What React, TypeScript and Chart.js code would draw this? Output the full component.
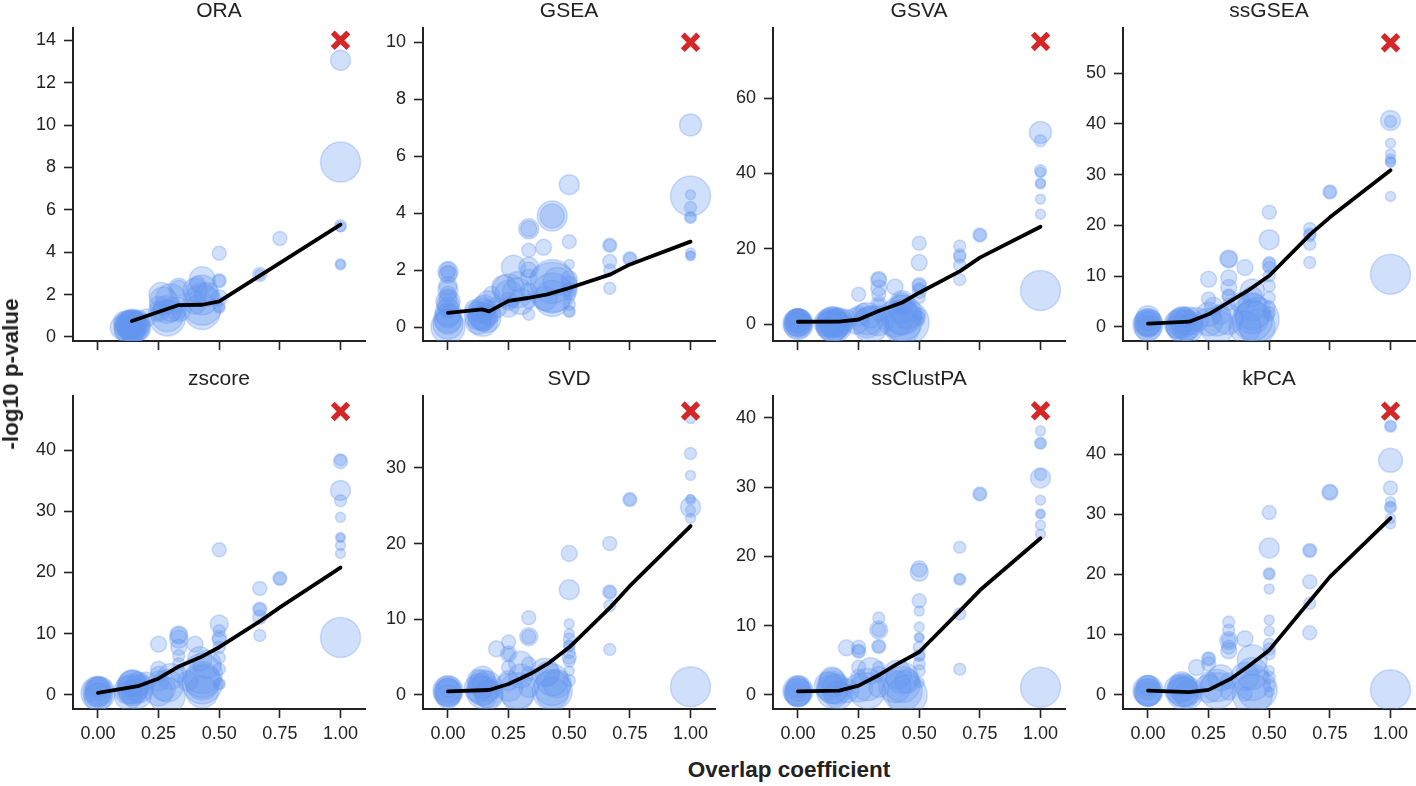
import React, { useEffect, useRef } from 'react';
import { Chart, registerables } from 'chart.js';

Chart.register(...registerables);

type Triple = [number, number, number];
type Pair = [number, number];

const PANEL_TITLES = ['ORA', 'GSEA', 'GSVA', 'ssGSEA', 'zscore', 'SVD', 'ssClustPA', 'kPCA'];
const X_TICKS = [0, 0.25, 0.5, 0.75, 1];
const X_LABEL = 'Overlap coefficient';
const Y_LABEL = '-log10 p-value';

// y tick values per panel
const ORA_Y_TICKS = [0, 2, 4, 6, 8, 10, 12, 14];
const GSEA_Y_TICKS = [0, 2, 4, 6, 8, 10];
const GSVA_Y_TICKS = [0, 20, 40, 60];
const SSGSEA_Y_TICKS = [0, 10, 20, 30, 40, 50];
const ZSCORE_Y_TICKS = [0, 10, 20, 30, 40];
const SVD_Y_TICKS = [0, 10, 20, 30];
const SSCLUSTPA_Y_TICKS = [0, 10, 20, 30, 40];
const KPCA_Y_TICKS = [0, 10, 20, 30, 40];

// y ranges per panel
const ORA_Y_RANGE: Pair = [-0.19, 14.6];
const GSEA_Y_RANGE: Pair = [-0.49, 10.52];
const GSVA_Y_RANGE: Pair = [-4.4, 78.7];
const SSGSEA_Y_RANGE: Pair = [-2.76, 59.0];
const ZSCORE_Y_RANGE: Pair = [-2.29, 48.9];
const SVD_Y_RANGE: Pair = [-1.85, 39.55];
const SSCLUSTPA_Y_RANGE: Pair = [-2.02, 43.2];
const KPCA_Y_RANGE: Pair = [-2.4, 49.8];

// red "x" marker per panel
const ORA_MARKER: Pair = [1, 14];
const GSEA_MARKER: Pair = [1, 10];
const GSVA_MARKER: Pair = [1, 75];
const SSGSEA_MARKER: Pair = [1, 56];
const ZSCORE_MARKER: Pair = [1, 46.3];
const SVD_MARKER: Pair = [1, 37.5];
const SSCLUSTPA_MARKER: Pair = [1, 41];
const KPCA_MARKER: Pair = [1, 47.2];

// bubbles: [overlap, -log10 p, size]
const ORA_BUBBLES: Triple[] = [
  [0.14, 0.5, 15], [0.14, 0.7, 13], [0.125, 0.55, 14], [0.143, 0.4, 13], [0.167, 0.8, 10], [0.2, 0.9, 9],
  [0.1, 0.45, 12], [0.143, 0.3, 12], [0.13, 0.6, 14], [0.15, 0.45, 15], [0.14, 0.55, 12], [0.12, 0.35, 13],
  [0.16, 0.6, 13], [0.143, 0.5, 16], [0.11, 0.7, 11], [0.167, 0.4, 12], [0.143, 0.6, 14], [0.13, 0.4, 15],
  [0.286, 0.9, 18], [0.333, 2.3, 10], [0.333, 2.3, 8], [0.333, 1.15, 7], [0.25, 1.07, 6], [0.26, 2.0, 12], [0.27, 1.7, 14],
  [0.3, 1.3, 12], [0.25, 1.5, 9], [0.286, 1.0, 16], [0.286, 1.3, 14], [0.3, 1.8, 15], [0.25, 1.2, 10], [0.333, 1.3, 12],
  [0.43, 1.2, 18], [0.43, 2.7, 13], [0.41, 2.5, 8], [0.43, 2.2, 15], [0.4, 1.6, 11], [0.43, 1.5, 20], [0.43, 1.8, 16],
  [0.45, 2.0, 12], [0.4, 2.2, 12],
  [0.5, 3.95, 7], [0.5, 2.65, 7], [0.5, 2.65, 6], [0.5, 1.4, 5], [0.5, 1.4, 6], [0.5, 1.85, 8],
  [0.667, 2.95, 7], [0.667, 2.95, 5],
  [0.75, 4.65, 7],
  [1, 13.05, 10], [1, 8.25, 20], [1, 5.25, 6], [1, 5.2, 5], [1, 3.4, 5], [1, 3.45, 5],
];
const GSEA_BUBBLES: Triple[] = [
  [0, 0, 17], [0, 0.2, 13], [0, 1.95, 10], [0, 1.85, 9], [0, 1.45, 9], [0, 0.9, 12], [0, 0.7, 10], [0, 1.15, 8],
  [0, 0.4, 12], [0, 2.0, 8], [0, 1.0, 9], [0, 0.6, 8], [0, 1.9, 7], [0, 0.1, 15], [0, 0.3, 14], [0, 0.8, 11],
  [0, 1.3, 10], [0, 0.5, 13],
  [0.143, 0.45, 15], [0.167, 0.85, 12], [0.125, 0.2, 13], [0.11, 0.6, 10], [0.2, 0.68, 10], [0.18, 1.15, 8],
  [0.143, 0.3, 12], [0.167, 0.5, 12], [0.143, 0.35, 14], [0.14, 0.6, 13], [0.125, 0.4, 14], [0.16, 0.3, 14],
  [0.15, 0.7, 12], [0.143, 0.2, 15],
  [0.25, 1.15, 14], [0.25, 0.7, 10], [0.23, 1.4, 12], [0.27, 2.1, 12], [0.286, 1.6, 10], [0.25, 0.9, 9],
  [0.25, 1.3, 16], [0.286, 1.2, 15], [0.3, 0.9, 13],
  [0.333, 3.45, 10], [0.333, 3.45, 8], [0.333, 2.7, 7], [0.333, 2.1, 10], [0.333, 2.0, 8], [0.333, 1.75, 8],
  [0.333, 1.27, 8], [0.333, 0.45, 6], [0.333, 0.9, 7],
  [0.394, 2.8, 8], [0.43, 3.9, 15], [0.43, 3.9, 12], [0.43, 1.4, 25], [0.43, 1.2, 20], [0.4, 1.0, 12], [0.45, 1.6, 14],
  [0.43, 1.6, 22], [0.43, 1.0, 18],
  [0.5, 5.0, 10], [0.5, 3.0, 7], [0.5, 2.2, 5], [0.5, 1.7, 8], [0.5, 1.5, 8], [0.5, 1.15, 6], [0.5, 0.8, 6],
  [0.5, 0.55, 6], [0.5, 0.55, 5], [0.5, 1.3, 7],
  [0.667, 2.87, 7], [0.667, 2.87, 6], [0.667, 2.3, 7], [0.667, 2.0, 6], [0.667, 1.36, 6],
  [0.75, 2.4, 7], [0.75, 2.4, 6],
  [1, 7.1, 11], [1, 4.6, 20], [1, 4.65, 5], [1, 4.2, 6], [1, 3.85, 6], [1, 3.85, 5], [1, 2.6, 5], [1, 2.5, 5], [1, 2.5, 4],
];
const GSVA_BUBBLES: Triple[] = [
  [0, 0.4, 14], [0, 0.9, 12], [0, 0, 12], [0, 1.3, 10], [0, 0.6, 10], [0, 0.2, 15], [0, 0.7, 13], [0, -0.3, 14], [0, 1.6, 9],
  [0, 0.3, 13], [0, 1.0, 12],
  [0.143, -0.4, 16], [0.167, 0.4, 14], [0.125, 0, 12], [0.2, 1.3, 10], [0.143, 0.5, 13], [0.167, -0.2, 12],
  [0.143, 0, 17], [0.143, 0.8, 15], [0.125, 0.3, 14], [0.16, -0.5, 15], [0.143, -0.2, 16], [0.17, 0.9, 13],
  [0.143, 0.5, 15], [0.15, 0.2, 14],
  [0.25, 8.0, 7], [0.25, 2.2, 10], [0.24, 0.9, 13], [0.286, 0.4, 15], [0.27, 3.5, 8], [0.3, 2, 11],
  [0.286, 1.5, 16], [0.3, 0, 18], [0.33, 1, 15],
  [0.333, 11.9, 8], [0.333, 11.9, 7], [0.333, 9.7, 8], [0.333, 8.0, 7], [0.333, 5.3, 8], [0.333, 5.3, 6], [0.333, 2.6, 7],
  [0.4, 9.9, 8], [0.43, 5.75, 12], [0.43, 5.75, 10], [0.43, 0.9, 20], [0.43, -0.5, 18], [0.45, 2.5, 14],
  [0.4, 1.5, 18], [0.43, 2.5, 20], [0.45, 0.5, 22], [0.43, 2, 17], [0.43, 4, 14],
  [0.5, 21.5, 7], [0.5, 16.4, 8], [0.5, 10.6, 7], [0.5, 9.5, 6], [0.5, 8.8, 7], [0.5, 7.1, 6], [0.5, 2.7, 6],
  [0.5, 0.9, 5], [0.5, 1.8, 6], [0.5, 10.2, 7],
  [0.667, 20.8, 6], [0.667, 17.9, 6], [0.667, 18.4, 6], [0.667, 15.7, 6], [0.667, 11.9, 6],
  [0.75, 23.7, 7], [0.75, 23.7, 6],
  [1, 50.9, 11], [1, 48.7, 6], [1, 40.7, 6], [1, 40.3, 5], [1, 37.2, 5], [1, 37.5, 5], [1, 33.2, 5], [1, 29.2, 5], [1, 9.0, 20],
];
const SSGSEA_BUBBLES: Triple[] = [
  [0, 0.85, 14], [0, 1.8, 12], [0, 0.5, 13], [0, 0.2, 10], [0, 1.2, 10], [0, 0.4, 15], [0, 1.0, 13], [0, -0.3, 13],
  [0, 0.6, 12],
  [0.143, 0.5, 17], [0.167, 1.2, 14], [0.2, 1.5, 12], [0.125, 0, 12], [0.143, 1.0, 13], [0.143, 0, 16],
  [0.125, 0.6, 14], [0.16, 0.3, 15], [0.17, -0.2, 14], [0.143, 1.5, 13], [0.143, 0.8, 15],
  [0.25, 9.4, 8], [0.25, 5.5, 7], [0.25, 2.5, 12], [0.286, 1.2, 15], [0.27, 4.1, 9], [0.3, 2.5, 10],
  [0.286, 0, 17], [0.25, 1.0, 14], [0.33, 1.5, 15],
  [0.333, 13.4, 9], [0.333, 13.4, 8], [0.333, 9.7, 8], [0.333, 7.8, 8], [0.333, 6.1, 7], [0.333, 6.1, 6], [0.333, 4.5, 6],
  [0.4, 11.7, 8], [0.43, 7.1, 12], [0.43, 6, 10], [0.43, 1.2, 20], [0.38, 4.8, 10], [0.45, 0, 18],
  [0.43, 3, 18], [0.45, 1.5, 22], [0.4, 0, 16], [0.43, 2, 17], [0.43, 4, 14],
  [0.5, 22.6, 7], [0.5, 17.2, 10], [0.5, 12.7, 6], [0.5, 11.7, 6], [0.5, 10.1, 6], [0.5, 8.1, 6], [0.5, 5.8, 6],
  [0.5, 4, 6], [0.5, 2.8, 6], [0.5, 2.2, 5], [0.5, 12.2, 7],
  [0.667, 19.4, 6], [0.667, 18.3, 6], [0.667, 18.0, 6], [0.667, 16.3, 6], [0.667, 12.7, 6],
  [0.75, 26.6, 7], [0.75, 26.6, 6],
  [1, 40.7, 10], [1, 40.5, 6], [1, 36.2, 5], [1, 34.1, 5], [1, 33.1, 5], [1, 32.6, 5], [1, 32.4, 5], [1, 25.7, 5], [1, 10.4, 20],
];
const ZSCORE_BUBBLES: Triple[] = [
  [0, 0.3, 17], [0, 0.7, 13], [0, 0, 12], [0, 1.25, 10], [0, 0.5, 15], [0, -0.3, 14], [0, 1.0, 12], [0, 0.4, 13],
  [0.143, 1.25, 16], [0.143, 0.7, 15], [0.167, 1.8, 12], [0.125, -0.1, 14], [0.2, 2.3, 9],
  [0.143, 1.6, 15], [0.125, 0.8, 14], [0.16, 0.2, 15], [0.14, 2.0, 13], [0.17, 1.0, 14], [0.143, 1.0, 15],
  [0.25, 8.3, 8], [0.25, 4.2, 8], [0.25, 3.4, 8], [0.25, 2.3, 10], [0.286, -0.1, 18], [0.27, 1, 12],
  [0.286, 1.5, 16], [0.3, 3, 13], [0.25, 0.5, 14],
  [0.333, 9.8, 9], [0.333, 9.8, 8], [0.333, 9.1, 9], [0.333, 7.8, 8], [0.333, 6.4, 6], [0.333, 5.1, 6], [0.333, 3.4, 8],
  [0.4, 8.3, 8], [0.42, 5.9, 12], [0.43, 1.8, 20], [0.43, 0.5, 16], [0.37, 2.3, 10],
  [0.43, 3.5, 20], [0.43, 2.5, 18], [0.45, 5, 14], [0.43, 2, 17],
  [0.5, 23.7, 7], [0.5, 11.6, 9], [0.5, 10.5, 6], [0.5, 9.4, 7], [0.5, 7.8, 6], [0.5, 6.1, 6], [0.5, 4.2, 6],
  [0.5, 1.8, 6], [0.5, 1.8, 5], [0.5, 9.0, 7],
  [0.667, 17.4, 7], [0.667, 14.0, 7], [0.667, 14.0, 6], [0.667, 12.7, 7], [0.667, 9.7, 6],
  [0.75, 19.0, 7], [0.75, 19.0, 6],
  [1, 38.4, 6], [1, 38.1, 7], [1, 33.4, 10], [1, 31.7, 6], [1, 29, 5], [1, 25.7, 5], [1, 25.7, 4], [1, 24.4, 5],
  [1, 23.1, 5], [1, 9.4, 20],
];
const SVD_BUBBLES: Triple[] = [
  [0, 0.57, 15], [0, 0.2, 13], [0, 1.0, 10], [0, 0.3, 14], [0, 0.8, 13], [0, -0.2, 12], [0, 0.5, 13],
  [0.143, 0.8, 16], [0.143, 1.45, 14], [0.167, 0.2, 14], [0.125, 1.9, 11], [0.2, 6.1, 8],
  [0.143, 0.3, 16], [0.125, 0.9, 14], [0.16, 1.2, 15], [0.17, 0, 14], [0.143, 2.2, 12], [0.143, 0.6, 15],
  [0.25, 7.0, 7], [0.25, 5.4, 8], [0.25, 5.4, 6], [0.25, 3.65, 7], [0.25, 1.9, 10], [0.286, 0.57, 18], [0.3, 2.5, 12],
  [0.286, 0, 16], [0.25, 1.0, 14], [0.3, 4.2, 12],
  [0.333, 10.2, 7], [0.333, 7.7, 9], [0.333, 7.7, 7], [0.333, 4.1, 7], [0.333, 2.8, 7], [0.333, 1.0, 10],
  [0.41, 2.8, 12], [0.43, 0.57, 20], [0.43, 0.2, 16], [0.45, 1.5, 14], [0.43, 1.0, 18], [0.4, 3, 14], [0.43, 2, 16],
  [0.5, 18.7, 8], [0.5, 13.9, 10], [0.5, 9.4, 5], [0.5, 8.1, 5], [0.5, 7.4, 6], [0.5, 6.5, 6], [0.5, 6.5, 5],
  [0.5, 5.6, 6], [0.5, 4.5, 6], [0.5, 3.2, 5], [0.5, 1.9, 6], [0.5, 5, 7],
  [0.667, 20.0, 7], [0.667, 13.6, 7], [0.667, 13.6, 6], [0.667, 11.8, 6], [0.667, 6.0, 6],
  [0.75, 25.8, 7], [0.75, 25.8, 6],
  [1, 36.5, 5], [1, 31.9, 6], [1, 29.0, 5], [1, 25.8, 5], [1, 25.9, 4], [1, 24.8, 10], [1, 24.4, 5], [1, 23.3, 5], [1, 1.1, 20],
];
const SSCLUSTPA_BUBBLES: Triple[] = [
  [0, 0.4, 14], [0, 0.87, 12], [0, 0, 12], [0, 0.6, 15], [0, 0.2, 13], [0, 1.2, 11], [0, 0.5, 13],
  [0.143, 1.1, 16], [0.143, 1.8, 14], [0.167, 0, 14], [0.2, 0.6, 12], [0.143, 0.4, 16], [0.125, 1.3, 14],
  [0.16, 0.8, 15], [0.14, 2.3, 12], [0.143, 0.9, 15],
  [0.2, 6.8, 8],
  [0.25, 6.3, 7], [0.25, 6.3, 6], [0.25, 6.9, 7], [0.25, 4.0, 7], [0.25, 2.55, 8], [0.286, 0.6, 18],
  [0.286, 1.5, 16], [0.25, 1.0, 14], [0.3, 3.5, 13],
  [0.333, 11.1, 6], [0.333, 9.4, 9], [0.333, 9.4, 7], [0.333, 7.0, 7], [0.333, 7.0, 6], [0.333, 4.0, 6],
  [0.333, 3.0, 8], [0.333, 1.1, 10],
  [0.43, 0.6, 20], [0.41, 3, 14], [0.45, 2, 12], [0.43, 1.5, 18], [0.45, 0, 20], [0.4, 1.2, 16], [0.43, 2.5, 16],
  [0.5, 18.2, 8], [0.5, 17.7, 9], [0.5, 13.6, 7], [0.5, 12.1, 5], [0.5, 9.8, 5], [0.5, 8.3, 5], [0.5, 8.3, 4],
  [0.5, 6.9, 6], [0.5, 5.7, 6], [0.5, 5.7, 5], [0.5, 3.5, 6], [0.5, 1.8, 5], [0.5, 4.5, 6],
  [0.667, 21.3, 6], [0.667, 16.7, 6], [0.667, 16.7, 5], [0.667, 11.7, 6], [0.667, 3.7, 6],
  [0.75, 29.0, 7], [0.75, 29.0, 6],
  [1, 38.1, 5], [1, 36.3, 6], [1, 36.3, 5], [1, 31.8, 6], [1, 31.3, 10], [1, 28.1, 5], [1, 26.1, 5], [1, 26.1, 4],
  [1, 24.5, 5], [1, 23.2, 5], [1, 1.1, 20],
];
const KPCA_BUBBLES: Triple[] = [
  [0, 0.4, 14], [0, 1.2, 12], [0, 0, 12], [0, 0.7, 15], [0, 0.2, 13], [0, 1.5, 10], [0, 0.5, 13],
  [0.143, 0.67, 16], [0.143, 1.2, 14], [0.167, 0, 14], [0.2, 4.5, 8], [0.143, 0.2, 16], [0.125, 0.9, 14],
  [0.16, 0.6, 15], [0.14, 1.8, 12], [0.143, 0.5, 15],
  [0.25, 5.95, 7], [0.25, 5.95, 6], [0.25, 5.1, 7], [0.25, 2.3, 9], [0.286, 0.67, 18],
  [0.286, 1.5, 16], [0.25, 1.0, 14], [0.3, 2.8, 13],
  [0.333, 12.1, 6], [0.333, 10.7, 6], [0.333, 9.0, 9], [0.333, 9.0, 7], [0.333, 7.9, 7], [0.333, 7.3, 8],
  [0.333, 2.3, 8], [0.333, 0.4, 8],
  [0.4, 9.3, 8], [0.43, 5.8, 15], [0.43, 0, 20], [0.4, 0.1, 7], [0.43, 2.0, 18], [0.45, 0.8, 20], [0.4, 3, 14],
  [0.43, 3.5, 16],
  [0.5, 30.3, 7], [0.5, 24.4, 10], [0.5, 20.1, 6], [0.5, 20.1, 5], [0.5, 17.6, 5], [0.5, 12.4, 5], [0.5, 10.6, 5],
  [0.5, 8.4, 6], [0.5, 7.6, 6], [0.5, 6.8, 6], [0.5, 4.0, 5], [0.5, 2.9, 6], [0.5, 0.4, 5], [0.5, 1.5, 6],
  [0.667, 24.0, 7], [0.667, 24.0, 6], [0.667, 18.8, 7], [0.667, 15.2, 6], [0.667, 10.3, 7],
  [0.75, 33.7, 8], [0.75, 33.7, 7],
  [1, 44.7, 6], [1, 44.7, 5], [1, 39.0, 12], [1, 34.4, 7], [1, 32.1, 5], [1, 31.2, 6], [1, 31.2, 5], [1, 29.3, 5],
  [1, 28.4, 5], [1, 0.8, 20],
];

// trend lines
const ORA_TREND: Pair[] = [[0.14, 0.75], [0.33, 1.5], [0.43, 1.52], [0.5, 1.68], [1, 5.3]];
const GSEA_TREND: Pair[] = [[0, 0.5], [0.14, 0.62], [0.17, 0.55], [0.25, 0.92], [0.33, 1.02], [0.41, 1.15], [0.5, 1.37], [0.67, 1.85], [0.75, 2.2], [1, 3.0]];
const GSVA_TREND: Pair[] = [[0, 0.7], [0.17, 0.75], [0.25, 1.3], [0.33, 3.5], [0.43, 5.8], [0.5, 8.4], [0.67, 14.2], [0.75, 17.7], [1, 25.9]];
const SSGSEA_TREND: Pair[] = [[0, 0.66], [0.17, 1.05], [0.25, 2.5], [0.33, 4.8], [0.41, 7.1], [0.5, 10.1], [0.67, 18.3], [0.75, 21.6], [1, 30.9]];
const ZSCORE_TREND: Pair[] = [[0, 0.33], [0.17, 1.5], [0.25, 2.7], [0.33, 4.6], [0.42, 6.1], [0.5, 7.8], [0.67, 12.1], [0.75, 14.3], [1, 20.8]];
const SVD_TREND: Pair[] = [[0, 0.48], [0.17, 0.66], [0.25, 1.45], [0.34, 2.8], [0.41, 4.1], [0.5, 6.3], [0.67, 11.6], [0.75, 14.4], [1, 22.3]];
const SSCLUSTPA_TREND: Pair[] = [[0, 0.53], [0.17, 0.63], [0.25, 1.35], [0.34, 3.0], [0.41, 4.5], [0.5, 6.2], [0.67, 12.2], [0.75, 15.1], [1, 22.6]];
const KPCA_TREND: Pair[] = [[0, 0.67], [0.17, 0.4], [0.25, 0.78], [0.34, 2.6], [0.41, 4.6], [0.5, 7.4], [0.67, 15.7], [0.75, 19.6], [1, 29.4]];

const PANELS = [
  { bubbles: ORA_BUBBLES, trend: ORA_TREND, marker: ORA_MARKER, yTicks: ORA_Y_TICKS, yRange: ORA_Y_RANGE },
  { bubbles: GSEA_BUBBLES, trend: GSEA_TREND, marker: GSEA_MARKER, yTicks: GSEA_Y_TICKS, yRange: GSEA_Y_RANGE },
  { bubbles: GSVA_BUBBLES, trend: GSVA_TREND, marker: GSVA_MARKER, yTicks: GSVA_Y_TICKS, yRange: GSVA_Y_RANGE },
  { bubbles: SSGSEA_BUBBLES, trend: SSGSEA_TREND, marker: SSGSEA_MARKER, yTicks: SSGSEA_Y_TICKS, yRange: SSGSEA_Y_RANGE },
  { bubbles: ZSCORE_BUBBLES, trend: ZSCORE_TREND, marker: ZSCORE_MARKER, yTicks: ZSCORE_Y_TICKS, yRange: ZSCORE_Y_RANGE },
  { bubbles: SVD_BUBBLES, trend: SVD_TREND, marker: SVD_MARKER, yTicks: SVD_Y_TICKS, yRange: SVD_Y_RANGE },
  { bubbles: SSCLUSTPA_BUBBLES, trend: SSCLUSTPA_TREND, marker: SSCLUSTPA_MARKER, yTicks: SSCLUSTPA_Y_TICKS, yRange: SSCLUSTPA_Y_RANGE },
  { bubbles: KPCA_BUBBLES, trend: KPCA_TREND, marker: KPCA_MARKER, yTicks: KPCA_Y_TICKS, yRange: KPCA_Y_RANGE },
];

// layout
const FONT = "'Liberation Sans', Arial, Helvetica, sans-serif";
const COL_LEFT = [73, 423, 773, 1123];
const ROW_TOP = [27, 395];
const AREA_W = 292;
const AREA_H = 313;
const Y_AXIS_W = 65;
const X_AXIS_H = 42;
const PAD_TOP = 10;
const PAD_RIGHT = 1;
const X_MIN = -0.103;
const X_MAX = 1.103;
const BUBBLE_COLOR = 'rgba(100,149,237,0.3)';
const INK = '#222222';

function Panel({ index }: { index: number }) {
  const ref = useRef<HTMLCanvasElement | null>(null);
  const p = PANELS[index];
  const col = index % 4;
  const row = Math.floor(index / 4);
  const showXLabels = row === 1;
  const cw = Y_AXIS_W + AREA_W + PAD_RIGHT;
  const ch = PAD_TOP + AREA_H + X_AXIS_H;

  useEffect(() => {
    const canvas = ref.current;
    if (!canvas) return;
    const chart = new Chart(canvas, {
      type: 'bubble',
      data: {
        datasets: [
          {
            type: 'scatter',
            data: [{ x: p.marker[0], y: p.marker[1] }],
            pointStyle: 'crossRot',
            pointRadius: 11,
            borderColor: '#d62728',
            backgroundColor: '#d62728',
            pointBorderWidth: 5.5,
            borderWidth: 5.5,
            clip: 0,
            order: 0,
          } as any,
          {
            type: 'scatter',
            data: p.trend.map(([x, y]) => ({ x, y })),
            showLine: true,
            borderColor: '#000000',
            borderWidth: 3.8,
            pointRadius: 0,
            tension: 0,
            borderCapStyle: 'round',
            borderJoinStyle: 'round',
            clip: 0,
            order: 1,
          } as any,
          {
            type: 'bubble',
            data: p.bubbles.map(([x, y, r]) => ({ x, y, r })),
            backgroundColor: BUBBLE_COLOR,
            borderColor: BUBBLE_COLOR,
            borderWidth: 1.5,
            clip: 0,
            order: 2,
          } as any,
        ],
      },
      options: {
        responsive: false,
        maintainAspectRatio: false,
        animation: false,
        events: [],
        layout: { padding: { top: PAD_TOP, right: PAD_RIGHT, left: 0, bottom: 0 } },
        plugins: { legend: { display: false }, tooltip: { enabled: false }, title: { display: false } },
        scales: {
          x: {
            type: 'linear',
            min: X_MIN,
            max: X_MAX,
            grid: { display: true, drawOnChartArea: false, drawTicks: true, tickLength: 9, tickWidth: 1.6, tickColor: INK },
            border: { display: true, color: INK, width: 2 },
            ticks: {
              display: showXLabels,
              padding: 5,
              color: INK,
              font: { family: FONT, size: 18 },
              maxRotation: 0,
              callback: (v: any) => Number(v).toFixed(2),
            },
            afterBuildTicks: (scale: any) => {
              scale.ticks = X_TICKS.map((v) => ({ value: v }));
            },
            afterFit: (scale: any) => {
              scale.height = X_AXIS_H;
            },
          },
          y: {
            type: 'linear',
            min: p.yRange[0],
            max: p.yRange[1],
            grid: { display: true, drawOnChartArea: false, drawTicks: true, tickLength: 9, tickWidth: 1.6, tickColor: INK },
            border: { display: true, color: INK, width: 2 },
            ticks: {
              padding: 8,
              color: INK,
              font: { family: FONT, size: 18 },
              callback: (v: any) => String(v),
            },
            afterBuildTicks: (scale: any) => {
              scale.ticks = p.yTicks.map((v) => ({ value: v }));
            },
            afterFit: (scale: any) => {
              scale.width = Y_AXIS_W;
            },
          },
        },
      } as any,
    });

    // fit the canvas so the plotting area has the exact size, then place it
    for (let k = 0; k < 4; k++) {
      const a = chart.chartArea;
      const dw = AREA_W - (a.right - a.left);
      const dh = AREA_H - (a.bottom - a.top);
      if (Math.abs(dw) < 0.5 && Math.abs(dh) < 0.5) break;
      chart.resize(Math.round(chart.width + dw), Math.round(chart.height + dh));
    }
    const b = chart.chartArea;
    canvas.style.left = COL_LEFT[col] - b.left + 'px';
    canvas.style.top = ROW_TOP[row] - b.top + 'px';

    return () => chart.destroy();
  }, [index]);

  return (
    <>
      <canvas
        ref={ref}
        width={cw}
        height={ch}
        style={{ position: 'absolute', left: COL_LEFT[col] - Y_AXIS_W, top: ROW_TOP[row] - PAD_TOP, width: cw, height: ch }}
      />
      <div
        style={{
          position: 'absolute',
          left: COL_LEFT[col],
          width: AREA_W,
          top: ROW_TOP[row] - 28,
          textAlign: 'center',
          fontFamily: FONT,
          fontSize: 21,
          lineHeight: '21px',
          color: INK,
          whiteSpace: 'nowrap',
        }}
      >
        {PANEL_TITLES[index]}
      </div>
    </>
  );
}

export default function App() {
  return (
    <div
      style={{
        position: 'fixed',
        left: 0,
        top: 0,
        width: 1416,
        height: 786,
        background: '#ffffff',
        overflow: 'hidden',
      }}
    >
      {PANELS.map((_, i) => (
        <Panel key={i} index={i} />
      ))}
      <div
        style={{
          position: 'absolute',
          left: 589,
          width: 400,
          top: 759,
          textAlign: 'center',
          fontFamily: FONT,
          fontWeight: 'bold',
          fontSize: 22.5,
          lineHeight: '22px',
          color: INK,
          whiteSpace: 'nowrap',
        }}
      >
        {X_LABEL}
      </div>
      <div
        style={{
          position: 'absolute',
          left: 11,
          top: 374,
          transform: 'translate(-50%, -50%) rotate(-90deg)',
          fontFamily: FONT,
          fontWeight: 'bold',
          fontSize: 22.5,
          lineHeight: '22px',
          color: INK,
          whiteSpace: 'nowrap',
        }}
      >
        {Y_LABEL}
      </div>
    </div>
  );
}
